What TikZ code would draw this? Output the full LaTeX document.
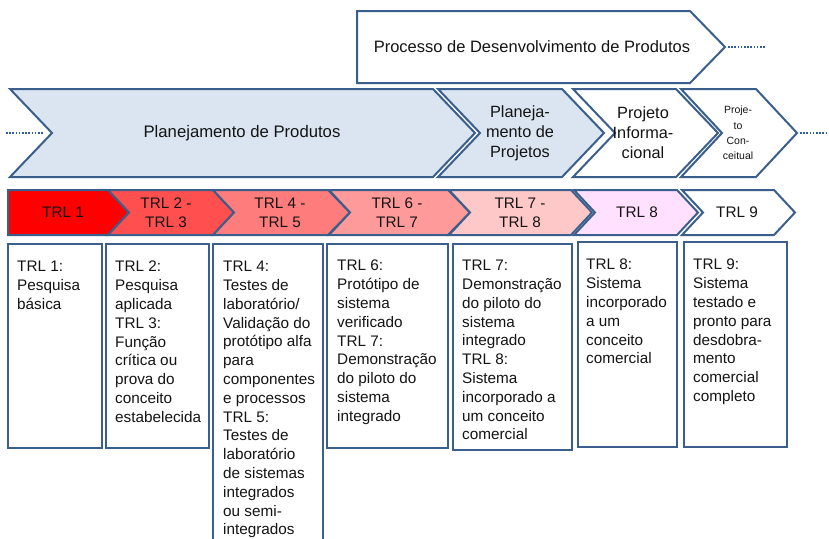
\documentclass[tikz,border=0pt]{standalone}
\usepackage{fontspec}
\setmainfont{Liberation Sans}
\definecolor{bord}{HTML}{3B5F8C}
\definecolor{lblue}{HTML}{DBE5F1}
\definecolor{txt}{HTML}{141414}
\definecolor{dotc}{HTML}{2F5CA8}
\definecolor{trlA}{HTML}{FF0000}
\definecolor{trlB}{HTML}{FF4F4F}
\definecolor{trlC}{HTML}{FF7C7C}
\definecolor{trlD}{HTML}{FF9A9A}
\definecolor{trlE}{HTML}{FFC8C8}
\definecolor{trlF}{HTML}{FFE0FE}
\begin{document}
\begin{tikzpicture}[x=1pt,y=-1pt,
  chev/.style={draw=bord,line width=2pt,line join=miter},
  lbl/.style={inner sep=0pt,align=center,text=txt},
  big/.style={font=\fontsize{16.5}{20}\selectfont},
  trltxt/.style={font=\fontsize{15.3}{19}\selectfont},
  boxtxt/.style={inner sep=0pt,anchor=north west,align=left,text=txt,font=\fontsize{15.3}{18.8}\selectfont},
  tbox/.style={draw=bord,line width=2pt},
  dots/.style={draw=dotc,line width=1.6pt,dash pattern=on 1.6pt off 1.6pt}]
\useasboundingbox (0,0) rectangle (829,538);
\clip (0,0) rectangle (829,538);
\fill[white] (0,0) rectangle (829,538);

% top arrow
\filldraw[chev,fill=white] (357,11) -- (690,11) -- (725,47) -- (690,83) -- (357,83) -- cycle;
\node[lbl,big] (pdp) at (532,47) {Processo de Desenvolvimento de Produtos};
\coordinate (topA) at (728,47);
\coordinate (topB) at (766,47);
\draw[dots] (topA) -- (topB);

% second row
\filldraw[chev,fill=lblue] (10,89) -- (433,89) -- (475,133) -- (433,177) -- (10,177) -- (52,133) -- cycle;
\filldraw[chev,fill=lblue] (438,89) -- (562,89) -- (604,133) -- (562,177) -- (438,177) -- (480,133) -- cycle;
\filldraw[chev,fill=white] (573,89) -- (676,89) -- (718,133) -- (676,177) -- (573,177) -- (615,133) -- cycle;
\filldraw[chev,fill=white] (681,89) -- (756,89) -- (797,133) -- (756,177) -- (681,177) -- (722,133) -- cycle;
\node[lbl,font=\fontsize{16.7}{20}\selectfont] (pp) at (242,133) {Planejamento de Produtos};
\node[lbl,font=\fontsize{16.3}{20}\selectfont] (pj) at (520,133) {Planeja-\\mento de\\Projetos};
\node[lbl,font=\fontsize{16.3}{20}\selectfont] (pi) at (643,133) {Projeto\\Informa-\\cional};
\node[lbl,font=\fontsize{10.5}{15.2}\selectfont] (pc) at (738,133) {Proje-\\to\\Con-\\ceitual};
\coordinate (leftA) at (6,133);
\coordinate (leftB) at (44,133);
\draw[dots] (leftA) -- (leftB);
\coordinate (rightA) at (800,133);
\coordinate (rightB) at (829,133);
\draw[dots] (rightA) -- (rightB);

% TRL row
\filldraw[chev,fill=trlA] (8,190) -- (108,190) -- (129,212.5) -- (108,235) -- (8,235) -- cycle;
\filldraw[chev,fill=trlB] (108,190) -- (213,190) -- (234,212.5) -- (213,235) -- (108,235) -- (129,212.5) -- cycle;
\filldraw[chev,fill=trlC] (213,190) -- (328,190) -- (350,212.5) -- (328,235) -- (213,235) -- (234,212.5) -- cycle;
\filldraw[chev,fill=trlD] (329,190) -- (448,190) -- (470,212.5) -- (448,235) -- (329,235) -- (350,212.5) -- cycle;
\filldraw[chev,fill=trlE] (449,190) -- (571,190) -- (592,212.5) -- (571,235) -- (449,235) -- (470,212.5) -- cycle;
\filldraw[chev,fill=trlF] (574,190) -- (677,190) -- (698,212.5) -- (677,235) -- (574,235) -- (595,212.5) -- cycle;
\filldraw[chev,fill=white] (682,190) -- (774,190) -- (795,212.5) -- (774,235) -- (682,235) -- (703,212.5) -- cycle;
\node[lbl,trltxt] (t1) at (63,212.5) {TRL 1};
\node[lbl,trltxt] (t2) at (166,212.5) {TRL 2 -\\TRL 3};
\node[lbl,trltxt] (t3) at (280,212.5) {TRL 4 -\\TRL 5};
\node[lbl,trltxt] (t4) at (397,212.5) {TRL 6 -\\TRL 7};
\node[lbl,trltxt] (t5) at (520,212.5) {TRL 7 -\\TRL 8};
\node[lbl,trltxt] (t6) at (637,212) {TRL 8};
\node[lbl,trltxt] (t7) at (737,212) {TRL 9};

% description boxes
\draw[tbox] (8,244) rectangle (102,448);
\draw[tbox] (106,244) rectangle (209,448);
\draw[tbox] (213,244) rectangle (323,560);
\draw[tbox] (327,244) rectangle (448,448);
\draw[tbox] (453,244) rectangle (572,450);
\draw[tbox] (578,242) rectangle (677,447);
\draw[tbox] (684,242) rectangle (787,447);

\node[boxtxt] (b1) at (17,261) {TRL 1:\\Pesquisa\\básica};
\node[boxtxt] (b2) at (115,261) {TRL 2:\\Pesquisa\\aplicada\\TRL 3:\\Função\\crítica ou\\prova do\\conceito\\estabelecida};
\node[boxtxt] (b3) at (223,261) {TRL 4:\\Testes de\\laboratório/\\Validação do\\protótipo alfa\\para\\componentes\\e processos\\TRL 5:\\Testes de\\laboratório\\de sistemas\\integrados\\ou semi-\\integrados};
\node[boxtxt] (b4) at (337,260) {TRL 6:\\Protótipo de\\sistema\\verificado\\TRL 7:\\Demonstração\\do piloto do\\sistema\\integrado};
\node[boxtxt] (b5) at (462,260) {TRL 7:\\Demonstração\\do piloto do\\sistema\\integrado\\TRL 8:\\Sistema\\incorporado a\\um conceito\\comercial};
\node[boxtxt] (b6) at (586,259) {TRL 8:\\Sistema\\incorporado\\a um\\conceito\\comercial};
\node[boxtxt] (b7) at (693,259) {TRL 9:\\Sistema\\testado e\\pronto para\\desdobra-\\mento\\comercial\\completo};
\end{tikzpicture}
\end{document}
